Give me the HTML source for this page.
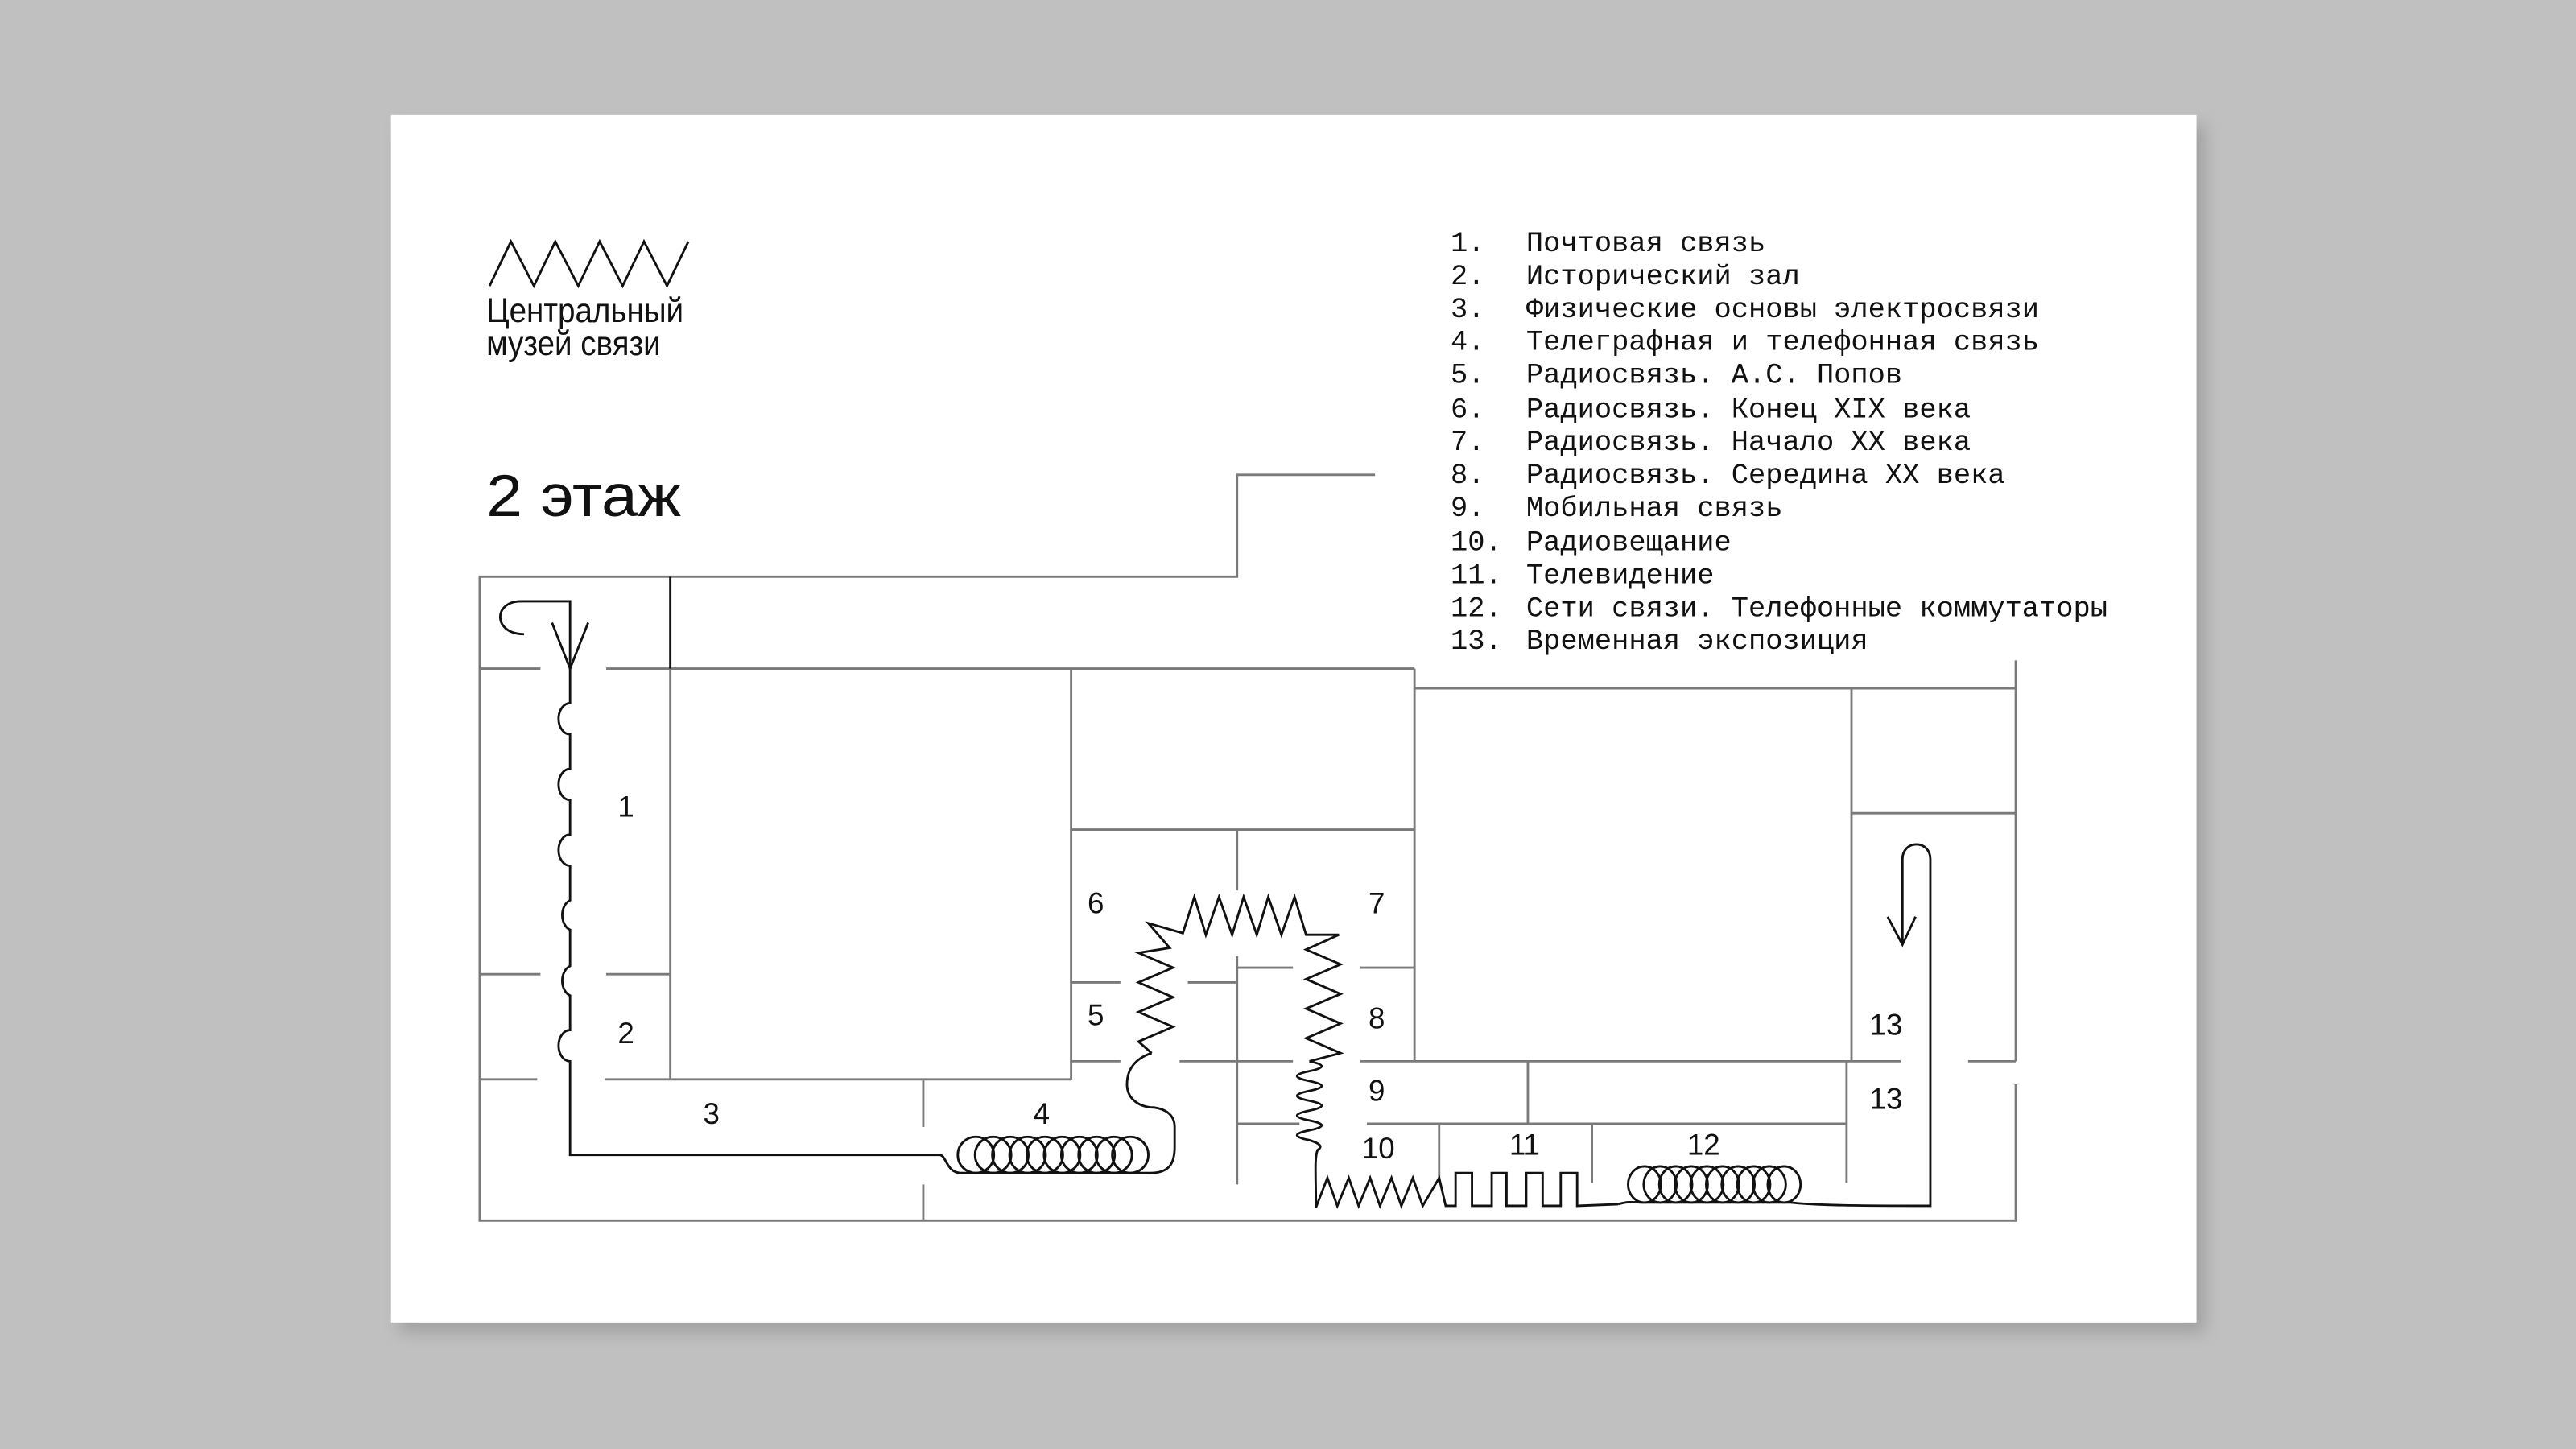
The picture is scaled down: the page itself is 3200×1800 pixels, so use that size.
<!DOCTYPE html>
<html><head><meta charset="utf-8"><style>
html,body{margin:0;padding:0;background:#c1c0c0;}
svg{display:block}
.w{stroke:#7a7a7a;stroke-width:1.4;fill:none}
.p{stroke:#111;stroke-width:1.4;fill:none;stroke-linejoin:miter}
.n{font-family:"Liberation Sans Narrow","Liberation Sans",sans-serif;font-size:18px;fill:#111;text-anchor:middle}
.lg{font-family:"Liberation Mono",monospace;font-size:17.35px;fill:#111}
</style></head><body>
<svg width="3200" height="1800" viewBox="0 0 1568 882" xmlns="http://www.w3.org/2000/svg">
<defs><filter id="sh" x="-5%" y="-5%" width="110%" height="115%"><feGaussianBlur stdDeviation="5"/></filter></defs>
<rect x="243" y="76" width="1099" height="735" fill="#8a8a8a" opacity="0.6" filter="url(#sh)"/>
<rect x="238" y="70" width="1099" height="735" fill="#fff"/>

<!-- logo -->
<polyline class="p" points="298,174 311,147 325,174 338,147 352,174 365,147 379,174 392,147 406,174 419,147"/>
<g transform="translate(296,0) scale(0.9,1)">
<text x="0" y="196" font-family="Liberation Sans,sans-serif" font-size="21" fill="#111">Центральный</text>
<text x="0" y="216" font-family="Liberation Sans,sans-serif" font-size="21" fill="#111">музей  связи</text>
</g>
<g transform="translate(296,0) scale(1.1,1)">
<text x="0" y="314" font-family="Liberation Sans,sans-serif" font-size="36" fill="#111">2 этаж</text>
</g>

<!-- legend -->
<g class="lg">
<text x="883" y="153">1.</text><text x="929" y="153">Почтовая связь</text>
<text x="883" y="173">2.</text><text x="929" y="173">Исторический зал</text>
<text x="883" y="193">3.</text><text x="929" y="193">Физические основы электросвязи</text>
<text x="883" y="213">4.</text><text x="929" y="213">Телеграфная и телефонная связь</text>
<text x="883" y="233">5.</text><text x="929" y="233">Радиосвязь. А.С. Попов</text>
<text x="883" y="254">6.</text><text x="929" y="254">Радиосвязь. Конец XIX века</text>
<text x="883" y="274">7.</text><text x="929" y="274">Радиосвязь. Начало XX века</text>
<text x="883" y="294">8.</text><text x="929" y="294">Радиосвязь. Середина XX века</text>
<text x="883" y="314">9.</text><text x="929" y="314">Мобильная связь</text>
<text x="883" y="335">10.</text><text x="929" y="335">Радиовещание</text>
<text x="883" y="355">11.</text><text x="929" y="355">Телевидение</text>
<text x="883" y="375">12.</text><text x="929" y="375">Сети связи. Телефонные коммутаторы</text>
<text x="883" y="395">13.</text><text x="929" y="395">Временная экспозиция</text>
</g>

<!-- walls -->
<g class="w">
<polyline points="837,289 753,289 753,351 292,351 292,743 1227,743 1227,660"/>
<line x1="1227" y1="402" x2="1227" y2="646"/>
<line x1="292" y1="407" x2="329" y2="407"/><line x1="369" y1="407" x2="861" y2="407"/>
<line x1="408" y1="407" x2="408" y2="657"/>
<line x1="292" y1="593" x2="329" y2="593"/><line x1="369" y1="593" x2="408" y2="593"/>
<line x1="292" y1="657" x2="327" y2="657"/><line x1="368" y1="657" x2="652" y2="657"/>
<line x1="652" y1="407" x2="652" y2="657"/>
<line x1="652" y1="505" x2="861" y2="505"/>
<line x1="861" y1="407" x2="861" y2="646"/>
<line x1="861" y1="419" x2="1227" y2="419"/>
<line x1="1127" y1="419" x2="1127" y2="646"/>
<line x1="1127" y1="495" x2="1227" y2="495"/>
<line x1="753" y1="505" x2="753" y2="542"/><line x1="753" y1="582" x2="753" y2="721"/>
<line x1="652" y1="598" x2="682" y2="598"/><line x1="723" y1="598" x2="753" y2="598"/>
<line x1="753" y1="589" x2="787" y2="589"/><line x1="828" y1="589" x2="861" y2="589"/>
<line x1="652" y1="646" x2="682" y2="646"/><line x1="718" y1="646" x2="787" y2="646"/><line x1="828" y1="646" x2="1157" y2="646"/><line x1="1198" y1="646" x2="1227" y2="646"/>
<line x1="753" y1="684" x2="791" y2="684"/><line x1="832" y1="684" x2="1124" y2="684"/>
<line x1="1124" y1="646" x2="1124" y2="720"/>
<line x1="930" y1="646" x2="930" y2="684"/>
<line x1="876" y1="684" x2="876" y2="720"/>
<line x1="969" y1="684" x2="969" y2="720"/>
<line x1="562" y1="657" x2="562" y2="686"/><line x1="562" y1="721" x2="562" y2="743"/>
</g>
<line x1="408" y1="351" x2="408" y2="407" stroke="#111" stroke-width="1.4"/>

<!-- route -->
<g class="p">
<path d="M319,386 C300,386 300,366 317,366 L347,366 L347,428 A7,9.5 0 0 0 347,447 L347,468 A7,9.5 0 0 0 347,487 L347,508 A7,9.5 0 0 0 347,527 L347,548 A7,9.5 0 0 0 347,566 L347,588 A7,9.5 0 0 0 347,606 L347,627 A7,9.5 0 0 0 347,646 L347,703 L572,703 C576,703 576,714 585,714 L700,714 C712,714 715,708 715,698 L715,686 C715,676 705,674 700,674 C692,673 686,668 686,660 C686,650 692,644 701,641"/>
<polyline points="336,379 347,407 358,379"/>
<polyline points="701,641 693,634 714,625 693,616 714,607 693,598 714,589 693,580 712,577 699,562 720,568 727,546 734,569 742,546 750,569 757,546 765,569 772,546 780,569 788,546 795,569 815,569 795,578 816,587 795,596 816,605 795,614 816,623 795,632 816,641 797,646"/>
<path d="M797,646 q15,3 0,6 q-15,3 0,6 q15,3 0,6 q-15,3 0,6 q15,3 0,6 q-15,3 0,6 q15,3 0,6 q-15,3 0,6 q10,3 5,6 C800,705 801,715 801,735"/>
<polyline points="801,735 808,717 814,734 821,717 827,734 834,717 840,734 847,717 853,734 860,717 866,734 876,717 880,734 886,734 886,714 896,714 896,734 908,734 908,714 917,714 917,734 929,734 929,714 939,714 939,734 950,734 950,714 960,714 960,734 985,733"/>
<path d="M985,733 C992,731 995,732 1000,732 L1090,732 C1100,733 1110,734 1175,734 L1175,523 C1175,511 1158,511 1158,523 L1158,574"/>
<polyline points="1149,558 1158,575 1166,558"/>
<g>
<ellipse cx="594" cy="703" rx="11" ry="11"/><ellipse cx="604.5" cy="703" rx="11" ry="11"/><ellipse cx="615" cy="703" rx="11" ry="11"/><ellipse cx="625.5" cy="703" rx="11" ry="11"/><ellipse cx="636" cy="703" rx="11" ry="11"/><ellipse cx="646.5" cy="703" rx="11" ry="11"/><ellipse cx="657" cy="703" rx="11" ry="11"/><ellipse cx="667.5" cy="703" rx="11" ry="11"/><ellipse cx="678" cy="703" rx="11" ry="11"/><ellipse cx="688" cy="703" rx="11" ry="11"/>
<ellipse cx="1001" cy="721" rx="10" ry="11"/><ellipse cx="1010.5" cy="721" rx="10" ry="11"/><ellipse cx="1020" cy="721" rx="10" ry="11"/><ellipse cx="1029.5" cy="721" rx="10" ry="11"/><ellipse cx="1039" cy="721" rx="10" ry="11"/><ellipse cx="1048.5" cy="721" rx="10" ry="11"/><ellipse cx="1058" cy="721" rx="10" ry="11"/><ellipse cx="1067.5" cy="721" rx="10" ry="11"/><ellipse cx="1077" cy="721" rx="10" ry="11"/><ellipse cx="1086" cy="721" rx="10" ry="11"/>
</g>
</g>

<!-- room labels -->
<g class="n">
<text x="381" y="497">1</text><text x="381" y="635">2</text><text x="433" y="684">3</text><text x="634" y="684">4</text>
<text x="667" y="624">5</text><text x="667" y="556">6</text><text x="838" y="556">7</text><text x="838" y="626">8</text>
<text x="838" y="670">9</text><text x="839" y="705">10</text><text x="928" y="703">11</text><text x="1037" y="703">12</text>
<text x="1148" y="630">13</text><text x="1148" y="675">13</text>
</g>
</svg>
</body></html>
